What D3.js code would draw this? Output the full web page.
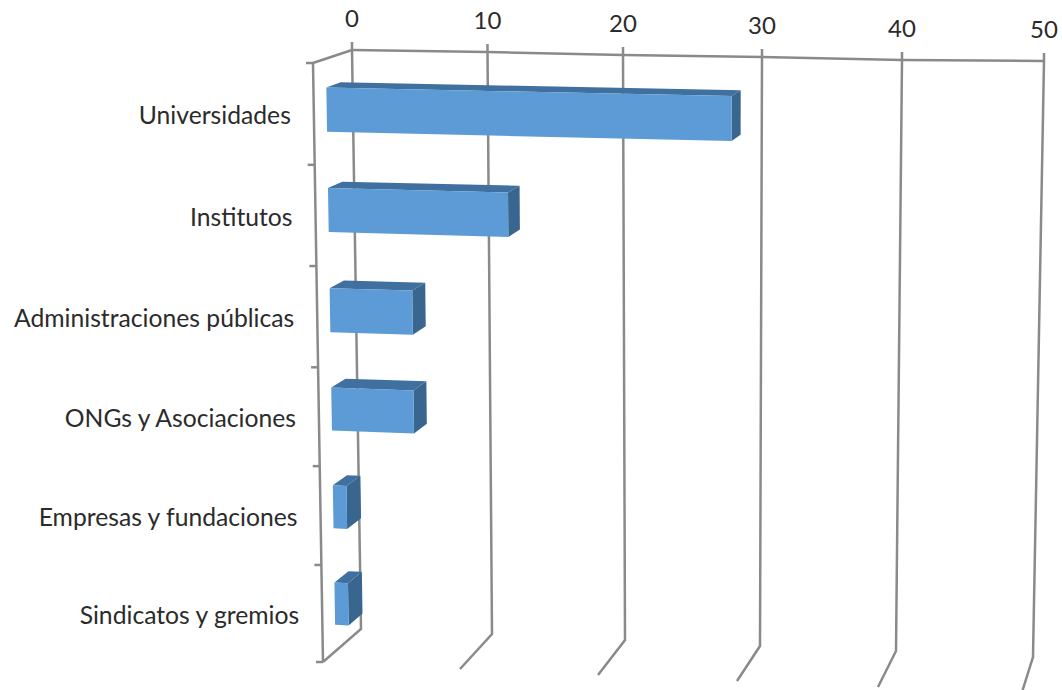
<!DOCTYPE html>
<html>
<head>
<meta charset="utf-8">
<style>
	html, body { margin: 0; padding: 0; background: #fff; overflow: hidden; }
	svg { display: block; }
	text { font-family: Lato, "Open Sans", sans-serif; fill: #2b2b2b; }
	.grid { stroke: #8a8a8a; stroke-width: 2.5px; fill: none; }
</style>
</head>
<body>
<div id="chart-container"></div>
<script src="https://d3js.org/d3.v7.min.js"></script>
<script>
	const categories = ["Universidades", "Institutos", "Administraciones públicas", "ONGs y Asociaciones", "Empresas y fundaciones", "Sindicatos y gremios"];
	const values = [29, 13, 6, 6, 1, 1];
	const valueTicks = [0, 10, 20, 30, 40, 50];

	const svgWidth = 1062;
	const svgHeight = 690;

	// perspective of the box, measured at each value tick
	const backTopX = d3.scaleLinear().domain(valueTicks).range([352, 487.5, 623, 762, 902, 1044]);
	const backTopY = d3.scaleLinear().domain(valueTicks).range([50, 52, 55, 57, 60, 61]);
	const backBottomX = d3.scaleLinear().domain(valueTicks).range([361, 492, 625, 760, 896, 1033]);
	const backBottomY = d3.scaleLinear().domain(valueTicks).range([629, 634, 640, 646, 651, 657]);
	const frontTopX = d3.scaleLinear().domain(valueTicks).range([313, 454.5, 595, 738, 883, 1032]);
	const frontTopY = d3.scaleLinear().domain(valueTicks).range([63, 66, 69, 72, 75, 77]);
	const frontBottomX = d3.scaleLinear().domain(valueTicks).range([323, 460, 598, 737, 878, 1022]);
	const frontBottomY = d3.scaleLinear().domain(valueTicks).range([662, 669, 675, 681, 687, 692]);

	// rows get a little shorter towards the bottom of the wall
	const rowPos = d3.scaleLinear().domain(d3.range(7).map(i => i / 6)).range([0, 0.17, 0.339, 0.508, 0.673, 0.838, 1]);

	const band = d3.scaleBand().domain(categories).range([0, 1]).paddingInner(0.56).paddingOuter(0.28);
	const barShift = 0.001;
	const barDepth = [0.33, 0.7];

	// v = value, c = 0..1 from top to bottom, d = 0 front .. 1 back
	function project(v, c, d) {
		const r = rowPos(c);
		const fx = d3.interpolateNumber(frontTopX(v), frontBottomX(v))(r);
		const fy = d3.interpolateNumber(frontTopY(v), frontBottomY(v))(r);
		const bx = d3.interpolateNumber(backTopX(v), backBottomX(v))(r);
		const by = d3.interpolateNumber(backTopY(v), backBottomY(v))(r);
		return [fx + (bx - fx) * d, fy + (by - fy) * d];
	}

	const line = d3.line();

	const svg = d3.select("#chart-container")
		.append("svg")
		.attr("width", svgWidth)
		.attr("height", svgHeight);

	const defs = svg.append("defs");
	defs.append("filter").attr("id", "soft")
		.append("feGaussianBlur").attr("stdDeviation", 0.45);

	const root = svg.append("g").attr("filter", "url(#soft)");

	// back wall gridlines, with the little tick above and the stub on the floor
	const grid = root.append("g");
	grid.selectAll("path.v")
		.data(valueTicks)
		.join("path")
		.attr("class", "grid v")
		.attr("d", v => {
			const top = project(v, 0, 1);
			return line([[top[0], top[1] - 8], top, project(v, 1, 1), project(v, 1, 0)]);
		});

	grid.append("path")
		.attr("class", "grid")
		.attr("d", line(valueTicks.map(v => project(v, 0, 1))));

	grid.append("path")
		.attr("class", "grid")
		.attr("d", line([project(0, 0, 1), project(0, 0, 0), project(0, 1, 0)]));

	// ticks on the front edge of the side wall
	grid.selectAll("path.tick")
		.data(d3.range(categories.length + 1))
		.join("path")
		.attr("class", "grid tick")
		.attr("d", i => {
			const p = project(0, i / categories.length, 0);
			return line([[p[0] - 7, p[1]], p]);
		});

	// bars
	const bars = root.selectAll("g.bar")
		.data(categories.map((name, i) => ({ name, value: values[i] })))
		.join("g")
		.attr("class", "bar");

	const c0 = d => band(d.name) + barShift;
	const c1 = d => band(d.name) + band.bandwidth() + barShift;

	bars.append("path")
		.attr("fill", "#3f709f")
		.attr("d", d => line([
			project(0, c0(d), barDepth[0]), project(d.value, c0(d), barDepth[0]),
			project(d.value, c0(d), barDepth[1]), project(0, c0(d), barDepth[1])
		]) + "Z");

	bars.append("path")
		.attr("fill", "#38668f")
		.attr("d", d => line([
			project(d.value, c0(d), barDepth[0]), project(d.value, c0(d), barDepth[1]),
			project(d.value, c1(d), barDepth[1]), project(d.value, c1(d), barDepth[0])
		]) + "Z");

	bars.append("path")
		.attr("fill", "#5b9bd5")
		.attr("d", d => line([
			project(0, c0(d), barDepth[0]), project(d.value, c0(d), barDepth[0]),
			project(d.value, c1(d), barDepth[0]), project(0, c1(d), barDepth[0])
		]) + "Z");

	// value labels above the back wall
	svg.selectAll("text.value")
		.data(valueTicks)
		.join("text")
		.attr("class", "value")
		.attr("x", v => project(v, 0, 1)[0])
		.attr("y", v => project(v, 0, 1)[1] - 33)
		.attr("text-anchor", "middle")
		.attr("dominant-baseline", "central")
		.style("font-size", "24px")
		.text(v => v);

	// category labels left of the side wall
	svg.selectAll("text.cat")
		.data(categories)
		.join("text")
		.attr("class", "cat")
		.attr("x", (d, i) => project(0, (i + 0.5) / categories.length, 0)[0] - 23)
		.attr("y", (d, i) => project(0, (i + 0.5) / categories.length, 0)[1] + 1)
		.attr("text-anchor", "end")
		.attr("dominant-baseline", "central")
		.style("font-size", "24.7px")
		.text(d => d);
</script>
</body>
</html>
